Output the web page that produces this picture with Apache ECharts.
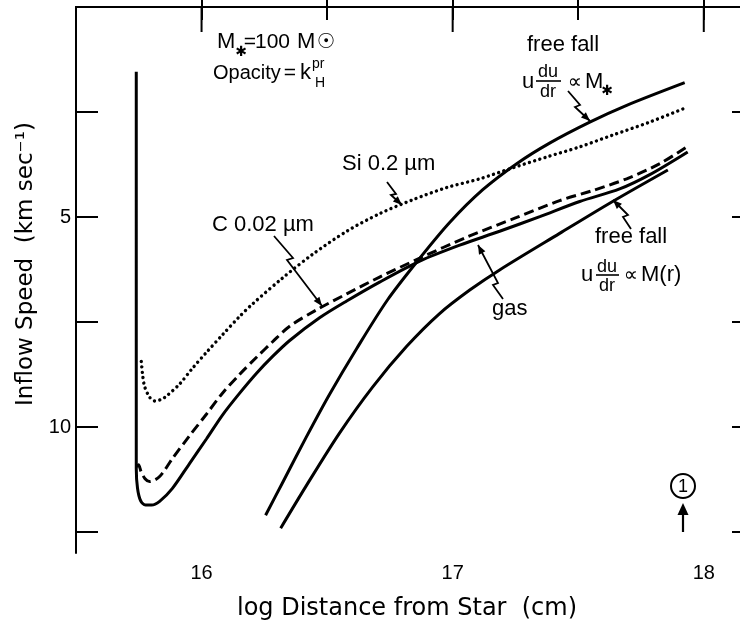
<!DOCTYPE html>
<html><head><meta charset="utf-8">
<script src="https://cdn.jsdelivr.net/npm/echarts@6/dist/echarts.min.js"></script>
<style>html,body{margin:0;padding:0;background:#fff}#c{width:740px;height:625px}</style>
</head><body><div id="c"></div>
<script>
// ---- data (log distance [cm], inflow speed [km/s]) ----
const gasX = [15.740,15.740,15.740,15.745,15.757,15.777,15.801,15.833,15.884,15.952,16.020,16.084,16.151,16.219,16.283,16.351,16.470,16.578,16.709,16.869,17.028,17.187,17.347,17.506,17.665,17.785,17.936];
const gasY = [1.54,6.97,10.99,11.46,11.75,11.86,11.86,11.77,11.46,10.87,10.28,9.71,9.20,8.72,8.32,7.94,7.40,7.00,6.55,6.05,5.67,5.34,4.99,4.63,4.33,3.99,3.45];
const carbonX = [15.741,15.749,15.759,15.775,15.793,15.833,15.884,15.952,16.020,16.084,16.151,16.219,16.283,16.351,16.458,16.578,16.709,16.869,17.056,17.255,17.426,17.558,17.693,17.825,17.932];
const carbonY = [10.95,10.90,11.06,11.23,11.30,11.18,10.75,10.21,9.69,9.19,8.75,8.34,7.97,7.60,7.21,6.83,6.43,5.98,5.48,5.01,4.61,4.37,4.09,3.73,3.33];
const siliconX = [15.760,15.765,15.773,15.793,15.813,15.841,15.861,15.912,15.964,16.020,16.084,16.151,16.203,16.323,16.442,16.578,16.709,16.841,16.976,17.108,17.239,17.375,17.506,17.637,17.785,17.924];
const siliconY = [8.44,8.74,9.03,9.29,9.38,9.34,9.26,8.98,8.60,8.22,7.80,7.37,7.07,6.45,5.89,5.34,4.92,4.59,4.30,4.09,3.83,3.57,3.33,3.05,2.74,2.41];
const freeFallStarX = [16.255,16.323,16.418,16.510,16.618,16.741,16.869,16.988,17.120,17.255,17.386,17.546,17.693,17.924];
const freeFallStarY = [12.10,11.32,10.23,9.22,8.13,6.97,5.98,5.13,4.35,3.73,3.24,2.74,2.34,1.80];
const freeFallMrX = [16.315,16.418,16.550,16.681,16.817,16.948,17.068,17.187,17.426,17.637,17.857];
const freeFallMrY = [12.41,11.39,10.14,9.05,8.08,7.30,6.74,6.26,5.39,4.63,3.88];

// ---- ticks ----
const xMajorTicks = [16, 17, 18];
const xHalfTicks = [16.5, 17.5];
const xTickLabels = [16, 17, 18];
const yTicks = [2.5, 5, 7.5, 10, 12.5];
const yTickLabels = [5, 10];

const zip = (xs, ys) => xs.map((x, i) => [x, ys[i]]);
const SANS = 'Liberation Sans';
const DJV = 'DejaVu Sans';

const chart = echarts.init(document.getElementById('c'), null, {renderer: 'canvas'});

const axisLine = {show: true, lineStyle: {color: '#000', width: 2}};
const baseX = {type: 'value', min: 15.5, max: 18.2, interval: 0.5, splitLine: {show: false}};
const baseY = {type: 'value', min: 0, max: 13, interval: 2.5, inverse: true, splitLine: {show: false}};

function txt(text, x, y, size, align, fam) {
  return {type: 'text', x: x, y: y, z: 10,
    style: {text: text, fontSize: size, fontFamily: fam || SANS, fill: '#000',
      align: align || 'left', verticalAlign: 'middle', textAlign: align || 'left', textVerticalAlign: 'middle'}};
}
function poly(points, w) {
  return {type: 'polyline', z: 10, shape: {points: points}, style: {stroke: '#000', lineWidth: w || 1.8, fill: null}};
}
function head(tip, from, len, hw) {
  const dx = tip[0] - from[0], dy = tip[1] - from[1];
  const L = Math.hypot(dx, dy), ux = dx / L, uy = dy / L;
  const bx = tip[0] - ux * len, by = tip[1] - uy * len;
  return {type: 'polygon', z: 10, shape: {points: [tip, [bx - uy * hw, by + ux * hw], [bx + uy * hw, by - ux * hw]]},
    style: {fill: '#000', stroke: null}};
}
function leader(pts) {
  const tip = pts[pts.length - 1], prev = pts[pts.length - 2];
  return [poly(pts), head(tip, prev, 9, 3.6)];
}
function hline(x1, x2, y) { return {type: 'line', z: 10, shape: {x1: x1, y1: y, x2: x2, y2: y}, style: {stroke: '#000', lineWidth: 1.6}}; }

const graphics = [].concat(
  [txt('M', 217, 42, 22), txt('\u2731', 241, 52, 14, 'center', DJV), txt('=', 250, 42, 21, 'center'), txt('100', 255, 42, 21),
   txt('M', 297, 42, 22), txt('\u2609', 326, 43, 21, 'center', DJV),
   txt('Opacity', 213, 73, 20), txt('=', 290, 73, 21, 'center'), txt('k', 300, 73, 22), txt('pr', 312, 64, 14), txt('H', 315, 83, 14)],
  // free fall  u du/dr ∝ M*
  [txt('free fall', 527, 45, 22), txt('u', 522, 82, 22), txt('du', 548, 72, 18, 'center'), hline(536, 561, 81),
   txt('dr', 548, 92, 18, 'center'), txt('\u221D', 575, 83, 20, 'center', DJV), txt('M', 585, 82, 22), txt('\u2731', 607, 91, 14, 'center', DJV)],
  leader([[568, 91], [580, 105], [575, 107], [590, 121]]),
  // Si 0.2 µm
  [txt('Si 0.2 \u00B5m', 342, 164, 22)],
  leader([[387, 182], [396, 194], [391, 195], [402, 205]]),
  // C 0.02 µm
  [txt('C 0.02 \u00B5m', 212, 225, 22)],
  leader([[274, 236], [293, 258], [287, 260], [322, 306]]),
  // gas
  [txt('gas', 492, 309, 22)],
  leader([[503, 299], [493, 285], [498, 283], [478, 245]]),
  // free fall u du/dr ∝ M(r)
  [txt('free fall', 595, 237, 22), txt('u', 581, 275, 22), txt('du', 607, 267, 18, 'center'), hline(596, 619, 275),
   txt('dr', 607, 286, 18, 'center'), txt('\u221D', 631, 276, 20, 'center', DJV), txt('M(r)', 641, 275, 22)],
  leader([[631, 229], [623, 217], [628, 215], [613, 200]]),
  // circled 1 with arrow
  [{type: 'circle', z: 10, shape: {cx: 683, cy: 486, r: 12}, style: {stroke: '#000', lineWidth: 2, fill: null}},
   txt('1', 683, 487, 18, 'center'),
   poly([[683, 532], [683, 512]], 2.2), head([683, 503], [683, 520], 12, 5.5)]
);

chart.setOption({
  animation: false,
  backgroundColor: '#fff',
  grid: {left: 76, top: 7, width: 678, height: 546, containLabel: false, outerBoundsMode: 'none'},
  xAxis: [
    Object.assign({}, baseX, {position: 'bottom', axisLine: axisLine,
      axisTick: {show: true, inside: true, length: 21, customValues: xMajorTicks.concat(xHalfTicks), lineStyle: {color: '#000', width: 2}},
      axisLabel: {show: true, customValues: xTickLabels, color: '#000', fontSize: 20, fontFamily: SANS, margin: 10},
      name: 'log Distance from Star  (cm)', nameLocation: 'middle', nameGap: 44,
      nameTextStyle: {color: '#000', fontSize: 24, fontFamily: DJV, padding: [0, 16, 0, 0]}}),
    Object.assign({}, baseX, {position: 'top', axisLine: axisLine,
      axisTick: {show: true, inside: true, length: 13, lineStyle: {color: '#000', width: 2}},
      axisLabel: {show: false}})
  ],
  yAxis: [
    Object.assign({}, baseY, {position: 'left', axisLine: axisLine,
      axisTick: {show: true, inside: true, length: 22, customValues: yTicks, lineStyle: {color: '#000', width: 2}},
      axisLabel: {show: true, customValues: yTickLabels, color: '#000', fontSize: 20, fontFamily: SANS, margin: 5},
      name: 'Inflow Speed  (km sec\u207B\u00B9)', nameLocation: 'middle', nameGap: 36, nameRotate: 90,
      nameTextStyle: {color: '#000', fontSize: 23, fontFamily: DJV, padding: [0, 0, 0, 32]}}),
    Object.assign({}, baseY, {position: 'right', axisLine: axisLine,
      axisTick: {show: true, inside: true, length: 22, customValues: yTicks, lineStyle: {color: '#000', width: 2}},
      axisLabel: {show: false}})
  ],
  series: [
    {name: 'gas', type: 'line', data: zip(gasX, gasY), showSymbol: false, smooth: 0.3,
      lineStyle: {color: '#000', width: 3}},
    {name: 'C 0.02 \u00B5m', type: 'line', data: zip(carbonX, carbonY), showSymbol: false, smooth: 0.3,
      lineStyle: {color: '#000', width: 3, type: [10, 5]}},
    {name: 'Si 0.2 \u00B5m', type: 'line', data: zip(siliconX, siliconY), showSymbol: false, smooth: 0.3,
      lineStyle: {color: '#000', width: 3.4, type: [0.01, 5.4], cap: 'round'}},
    {name: 'free fall M*', type: 'line', data: zip(freeFallStarX, freeFallStarY), showSymbol: false, smooth: 0.3,
      lineStyle: {color: '#000', width: 3}},
    {name: 'free fall M(r)', type: 'line', data: zip(freeFallMrX, freeFallMrY), showSymbol: false, smooth: 0.3,
      lineStyle: {color: '#000', width: 3}}
  ],
  graphic: graphics
});

// longer top ticks at the whole-number positions, placed through the axis scale
const topY = chart.convertToPixel({yAxisIndex: 0}, 0);
const majorTopTicks = xMajorTicks.map(v => {
  const px = chart.convertToPixel({xAxisIndex: 0}, v);
  return {type: 'line', z: 5, shape: {x1: px, y1: topY, x2: px, y2: topY + 25}, style: {stroke: '#000', lineWidth: 2}};
});
chart.setOption({graphic: graphics.concat(majorTopTicks)}, {replaceMerge: ['graphic']});
</script>
</body></html>
